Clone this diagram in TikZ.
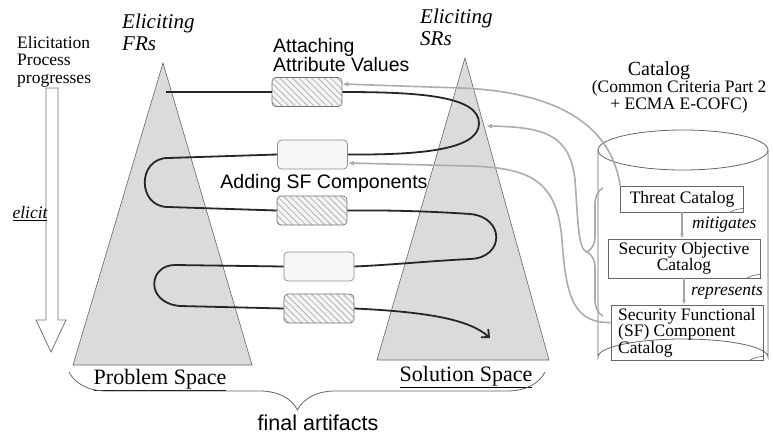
\documentclass[tikz,border=0pt]{standalone}
\usepackage{fontspec}
\setmainfont{Liberation Serif}
\setsansfont{Liberation Sans}
\usetikzlibrary{arrows.meta,patterns.meta,decorations.pathreplacing}
\begin{document}
\begin{tikzpicture}[x=1pt,y=-1pt,
  lbl/.style={inner sep=0pt,font=\fontsize{17.5}{17.5}\selectfont},
  ital/.style={inner sep=0pt,font=\fontsize{21}{22}\selectfont\itshape},
  sanslbl/.style={inner sep=0pt,font=\sffamily\fontsize{19.5}{18}\selectfont},
  space/.style={inner sep=0pt,font=\fontsize{22}{22}\selectfont},
  cone/.style={draw=black!60,line width=0.6pt,fill=black!14},
  hatchbox/.style={draw=black!55,line width=0.7pt,rounded corners=4pt,minimum width=70pt,minimum height=29pt,inner sep=0pt,
     preaction={fill=gray!8},pattern={Lines[angle=-45,distance=4.5pt,line width=0.8pt]},pattern color=gray!60},
  lightbox/.style={draw=black!45,line width=0.7pt,rounded corners=4pt,minimum width=70pt,minimum height=29pt,inner sep=0pt,fill=gray!7},
  catbox/.style={draw=black!60,line width=0.7pt,inner sep=3pt,font=\fontsize{17.5}{16.5}\selectfont},
  flow/.style={line width=1.8pt,black!85},
  feed/.style={line width=1.6pt,gray!65},
  feedarrow/.style={feed,-{Latex[length=6pt,width=5pt]}},
  catarrow/.style={line width=1.2pt,gray!70,-{Latex[length=5pt,width=4pt]}}]
\useasboundingbox (0,0) rectangle (773,441);

% progress arrow
\node[lbl,align=left,anchor=north west] (prog) at (17,36) {Elicitation\\Process\\progresses};
\draw[black!55,line width=0.8pt] (46,88) -- (58,88) -- (58,320) -- (66,320) -- (51,352) -- (36,320) -- (46,320) -- cycle;
\node[lbl] (elicit) at (30,214) {\itshape\underline{elicit}};

% cones
\draw[cone] (163,63) -- (252,365) -- (73,365) -- cycle;
\draw[cone] (465,58) -- (549,360) -- (377,360) -- cycle;
\node[ital,align=left,anchor=north west] (efr) at (122,14) {Eliciting\\FRs};
\node[ital,align=left,anchor=north west] (esr) at (420,9) {Eliciting\\SRs};
\node[space] (ps) at (160,380) {\underline{Problem Space}};
\node[space] (ss) at (466,377) {\underline{Solution Space}};

% bottom brace
\coordinate (bl) at (69,372);
\coordinate (br) at (545,372);
\draw[black!60,line width=0.8pt,decorate,decoration={brace,amplitude=38pt,aspect=0.52}] (br) -- (bl);
\node[inner sep=0pt,font=\sffamily\fontsize{21.5}{22}\selectfont] (fa) at (318,423) {final artifacts};

% labels in the middle
\node[sanslbl,align=left,anchor=north west] (att) at (273,38) {Attaching\\Attribute Values};

% boxes
\node[hatchbox] (b1) at (307,92) {};
\node[lightbox] (b2) at (312.5,154.5) {};
\node[sanslbl] (add) at (324,183) {Adding SF Components};
\node[hatchbox] (b3) at (312,210.5) {};
\node[lightbox] (b4) at (319,266.5) {};
\node[hatchbox] (b5) at (319,308.5) {};

% black flow path
\coordinate (s0) at (166,92);
\coordinate (e0) at (490,338);
\draw[flow] (s0) -- (b1.west);
\draw[flow] (b1.east) .. controls (420,92) and (480,96) .. (479,124) .. controls (478,150) and (420,155) .. (b2.east);
\draw[flow] (b2.west) -- (168,158) .. controls (137,158) and (137,207) .. (168,207) -- (b3.west);
\draw[flow] (b3.east) .. controls (400,210) and (440,212) .. (470,214) .. controls (505,217) and (505,258) .. (470,259) .. controls (430,261) and (390,265) .. (b4.east);
\draw[flow] (b4.west) -- (175,265) .. controls (148,265) and (145,303) .. (180,306) -- (b5.west);
\draw[flow,-{Straight Barb[length=6pt,width=11pt]}] (b5.east) .. controls (430,312) and (470,320) .. (e0);

% catalog cylinder
\node[inner sep=0pt,font=\fontsize{20}{20}\selectfont] (cattitle) at (659,71) {Catalog};
\node[lbl,align=center] (catsub) at (679,97) {(Common Criteria Part 2\\+ ECMA E-COFC)};
\draw[black!60,line width=0.8pt] (683,150) ellipse [x radius=85, y radius=20];
\draw[black!60,line width=0.8pt] (598,150) -- (598,357) arc[start angle=180,end angle=360,x radius=85,y radius=18] -- (768,150);

\node[catbox,minimum width=123pt,minimum height=26pt] (tc) at (682,199) {Threat Catalog};
\node[catbox,minimum width=152pt,minimum height=39pt,align=center] (so) at (684,258.5) {Security Objective\\Catalog};
\node[catbox,minimum width=152pt,minimum height=55pt,align=left] (sf) at (687,332.5) {Security Functional\\(SF) Component\\Catalog};
\draw[catarrow] (tc.south -| 682,0) -- (so.north -| 682,0);
\draw[catarrow] (so.south -| 684,0) -- (sf.north -| 684,0);
\node[lbl,anchor=west] (mit) at (692,225) {\itshape mitigates};
\node[lbl,anchor=west] (rep) at (691,292) {\itshape represents};
% page curls
\foreach \b in {tc,so,sf}{
  \draw[black!60,line width=0.6pt] ([xshift=-14pt]\b.south east) .. controls ([xshift=-8pt,yshift=3pt]\b.south east) .. ([yshift=4pt]\b.south east);
}

% gray feedback lines
\draw[feedarrow] (tc.north west) .. controls (612,130) and (565,92) .. (460,88) -- ([yshift=8pt]b1.east);
\coordinate (rb1) at (603,188);
\coordinate (rb2) at (603,316);
\coordinate (bt) at (587,252);
\coordinate (sB) at (486,126);
\draw[feed,decorate,decoration={brace,amplitude=16pt}] (rb2) -- (rb1);
\draw[feedarrow] (bt) .. controls (578,250) and (578,220) .. (575,180) .. controls (570,135) and (545,127) .. (sB);
\draw[feedarrow] ([yshift=10pt]sf.west) .. controls (575,323) and (566,300) .. (562,240) .. controls (557,180) and (530,168) .. (470,166) -- ([yshift=-8.5pt]b2.east);
\end{tikzpicture}
\end{document}
